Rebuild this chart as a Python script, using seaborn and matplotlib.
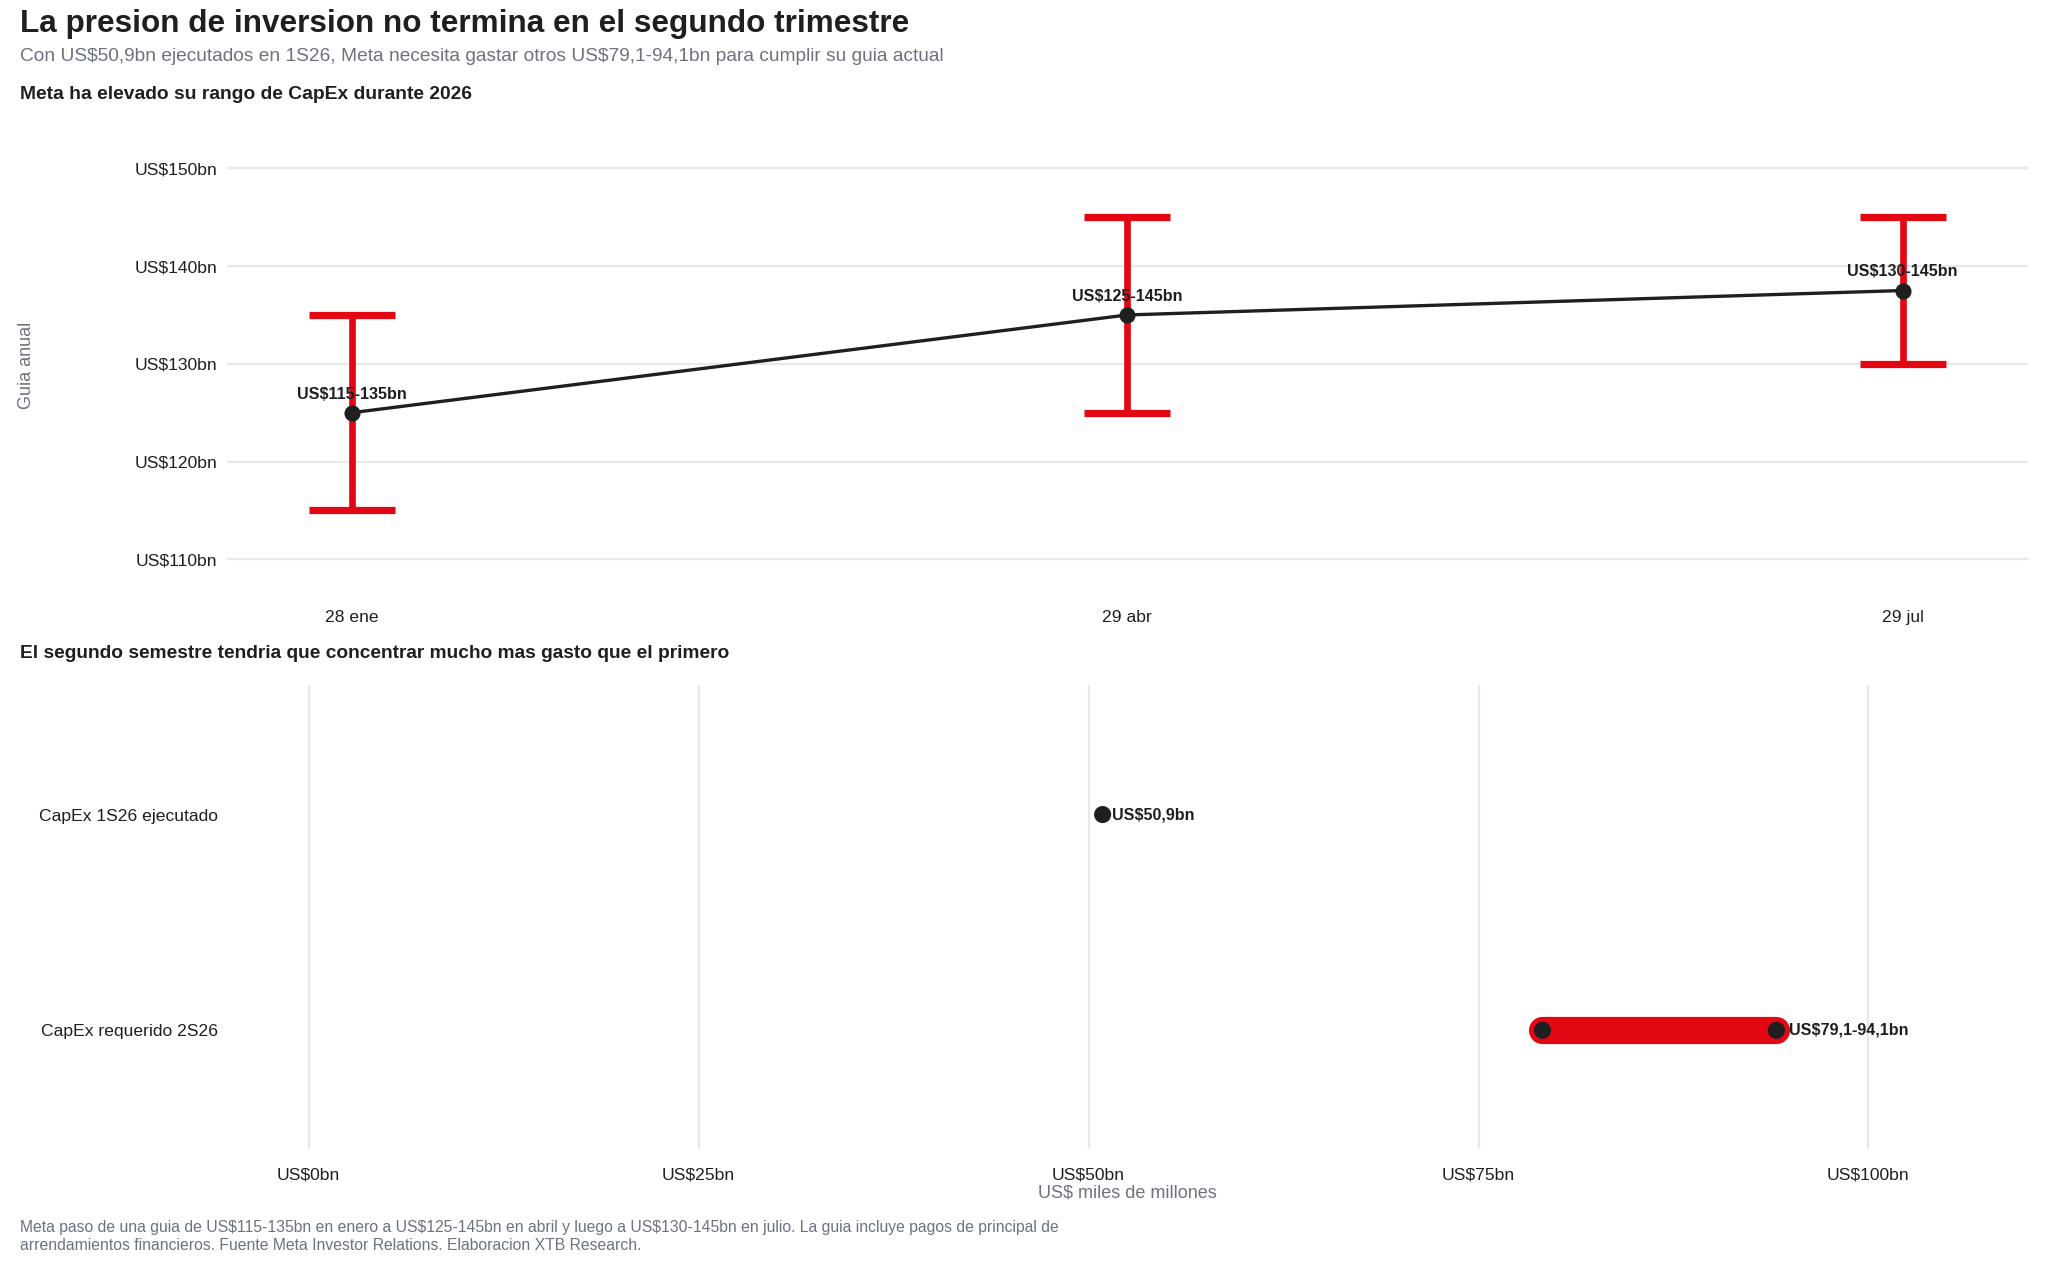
import matplotlib
matplotlib.use("Agg")
import matplotlib.pyplot as plt
import seaborn as sns
import pandas as pd

# datos
fechas = ["28 ene", "29 abr", "29 jul"]
guia_min = [115, 125, 130]
guia_max = [135, 145, 145]
etiquetas_guia = ["US$115-135bn", "US$125-145bn", "US$130-145bn"]

categorias = ["CapEx 1S26 ejecutado", "CapEx requerido 2S26"]
capex_1s26 = 50.9
req_2s26_min = 79.1
req_2s26_max = 94.1
etiqueta_1s26 = "US$50,9bn"
etiqueta_2s26 = "US$79,1-94,1bn"

yticks_top = [110, 120, 130, 140, 150]
xticks_bottom = [0, 25, 50, 75, 100]

ROJO = "#e30613"
NEGRO = "#1f1f1f"
GRIS = "#6b7280"
GRID = "#e7e8ec"

sns.set_theme(style="white")
plt.rcParams["font.family"] = ["Liberation Sans", "DejaVu Sans"]
plt.rcParams["text.parse_math"] = False

df_top = pd.DataFrame({
    "pos": range(len(fechas)),
    "fecha": fechas,
    "min": guia_min,
    "max": guia_max,
})
df_top["mid"] = (df_top["min"] + df_top["max"]) / 2

fig = plt.figure(figsize=(10.24, 6.32), dpi=200)

# --- panel superior ---
ax1 = fig.add_axes([0.111, 0.525, 0.879, 0.372])
ax1.errorbar(
    df_top["pos"], df_top["mid"],
    yerr=[df_top["mid"] - df_top["min"], df_top["max"] - df_top["mid"]],
    fmt="none", ecolor=ROJO, elinewidth=2.4, capsize=15.5, capthick=2.6,
    zorder=2,
)
sns.lineplot(data=df_top, x="pos", y="mid", color=NEGRO, linewidth=1.2,
             marker="o", markersize=5.8, markeredgewidth=0, ax=ax1, zorder=3)
for _, r in df_top.iterrows():
    ax1.annotate(etiquetas_guia[r["pos"]], (r["pos"], r["mid"]),
                 xytext=(0, 4), textcoords="offset points",
                 ha="center", va="bottom", fontsize=5.8, fontweight="bold",
                 color=NEGRO, zorder=4)
ax1.set_xlim(-0.1605, 2.161)
ax1.set_ylim(105.8, 153.9)
ax1.set_xticks(df_top["pos"])
ax1.set_xticklabels(fechas)
ax1.set_yticks(yticks_top)
ax1.set_yticklabels([f"US${v}bn" for v in yticks_top])
ax1.set_xlabel("")
ax1.set_ylabel("Guia anual", color=GRIS, fontsize=6.5)
ax1.yaxis.set_label_coords(-0.107, 0.5)
ax1.grid(axis="y", color=GRID, linewidth=0.8)
ax1.grid(axis="x", visible=False)
ax1.tick_params(axis="both", length=0, labelsize=6.3, labelcolor=NEGRO)
ax1.tick_params(axis="x", pad=3.5)
ax1.tick_params(axis="y", pad=3.5)
sns.despine(ax=ax1, left=True, bottom=True)

# --- panel inferior ---
ax2 = fig.add_axes([0.111, 0.091, 0.879, 0.367])
ax2.plot([req_2s26_min, req_2s26_max], [1, 1], color=ROJO, linewidth=9.8,
         solid_capstyle="round", zorder=2)
df_pts = pd.DataFrame({
    "valor": [capex_1s26, req_2s26_min, req_2s26_max],
    "fila": [0, 1, 1],
})
sns.scatterplot(data=df_pts, x="valor", y="fila", color=NEGRO, s=38,
                edgecolor="none", ax=ax2, zorder=3)
ax2.annotate(etiqueta_1s26, (capex_1s26, 0), xytext=(3.5, 0),
             textcoords="offset points", ha="left", va="center",
             fontsize=5.8, fontweight="bold", color=NEGRO)
ax2.annotate(etiqueta_2s26, (req_2s26_max, 1), xytext=(4.5, 0),
             textcoords="offset points", ha="left", va="center",
             fontsize=5.8, fontweight="bold", color=NEGRO)
ax2.set_xlim(-5.22, 110.2)
ax2.set_ylim(1.55, -0.6)
ax2.set_yticks([0, 1])
ax2.set_yticklabels(categorias)
ax2.set_xticks(xticks_bottom)
ax2.set_xticklabels([f"US${v}bn" for v in xticks_bottom])
ax2.set_ylabel("")
ax2.set_xlabel("US$ miles de millones", color=GRIS, fontsize=6.5, labelpad=1)
ax2.grid(axis="x", color=GRID, linewidth=0.8)
ax2.grid(axis="y", visible=False)
ax2.tick_params(axis="both", length=0, labelsize=6.3, labelcolor=NEGRO)
ax2.tick_params(axis="x", pad=6.5)
ax2.tick_params(axis="y", pad=3.5)
sns.despine(ax=ax2, left=True, bottom=True)

# --- textos ---
fig.text(0.0098, 0.981, "La presion de inversion no termina en el segundo trimestre",
         fontsize=11.35, fontweight="bold", color=NEGRO, va="center", ha="left")
fig.text(0.0098, 0.955,
         "Con US$50,9bn ejecutados en 1S26, Meta necesita gastar otros US$79,1-94,1bn para cumplir su guia actual",
         fontsize=6.9, color=GRIS, va="center", ha="left")
fig.text(0.0098, 0.925, "Meta ha elevado su rango de CapEx durante 2026",
         fontsize=6.95, fontweight="bold", color=NEGRO, va="center", ha="left")
fig.text(0.0098, 0.483,
         "El segundo semestre tendria que concentrar mucho mas gasto que el primero",
         fontsize=6.9, fontweight="bold", color=NEGRO, va="center", ha="left")
fig.text(0.0098, 0.0214,
         "Meta paso de una guia de US$115-135bn en enero a US$125-145bn en abril y luego a US$130-145bn en julio. "
         "La guia incluye pagos de principal de\narrendamientos financieros. Fuente Meta Investor Relations. Elaboracion XTB Research.",
         fontsize=5.7, color=GRIS, va="center", ha="left", linespacing=1.25)

fig.savefig("out.png", dpi=200, facecolor="white")
